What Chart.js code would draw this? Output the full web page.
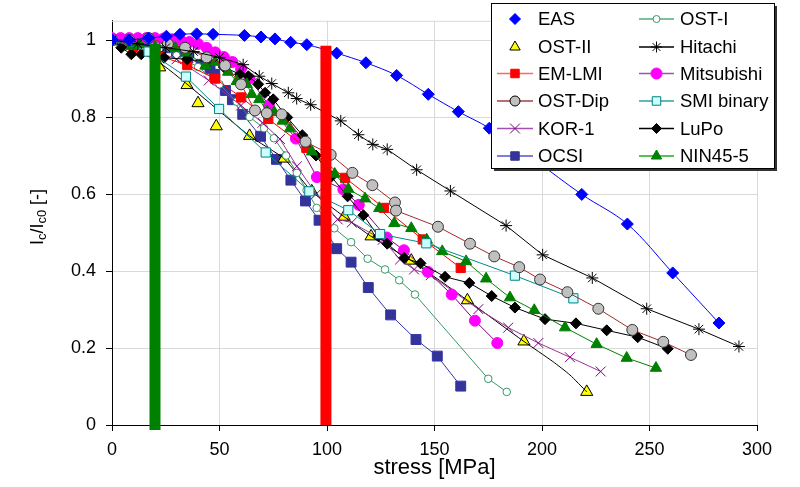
<!DOCTYPE html>
<html>
<head>
<meta charset="utf-8">
<script src="https://cdn.jsdelivr.net/npm/chart.js@4.4.0/dist/chart.umd.min.js"></script>
<style>
  html, body { margin: 0; padding: 0; background: #fff; }
  #wrap { width: 800px; height: 487px; position: relative; }
</style>
</head>
<body>
<div id="wrap"><canvas id="chart"></canvas></div>
<script>
// values (stress in MPa, Ic/Ic0)
const easStress = [0, 8, 17, 25.3, 31.6, 39.4, 47, 61.6, 69.3, 75.8, 83.1, 90.6, 104.5, 118.1, 132.4, 147.1, 161.1, 175.5, 196.7, 218.5, 239.7, 260.8, 282.3];
const easIc = [1, 1, 1.005, 1.01, 1.015, 1.016, 1.015, 1.012, 1.008, 1.003, 0.994, 0.988, 0.966, 0.941, 0.908, 0.859, 0.814, 0.771, 0.688, 0.599, 0.522, 0.395, 0.265];

const ost2Stress = [0, 22.2, 34.9, 40, 48.5, 64, 80, 92.9, 108, 120.5, 139.2, 165.3, 191.6, 220.8];
const ost2Ic = [1, 0.929, 0.883, 0.836, 0.776, 0.751, 0.692, 0.607, 0.541, 0.49, 0.427, 0.324, 0.217, 0.086];
// black trend line drawn through the OST-II points
const ost2LineStress = [0, 22.2, 64, 80, 92.9, 108, 120.5, 139.2, 165.3, 191.6, 205, 213, 220.8];
const ost2LineIc = [1, 0.941, 0.751, 0.692, 0.607, 0.541, 0.49, 0.427, 0.324, 0.217, 0.165, 0.13, 0.086];

const emStress = [0, 10, 22.3, 35, 48, 60.1, 72.7, 90.4, 108.4, 126.5, 144.5, 162.2];
const emIc = [1, 0.98, 0.958, 0.935, 0.9, 0.851, 0.795, 0.72, 0.642, 0.564, 0.482, 0.408];

const dipStress = [0, 8, 17, 26, 34, 44, 52.6, 60, 66.5, 72, 78.9, 90, 101.7, 111.8, 121.1, 131.6, 132.1, 151.6, 166.5, 177.8, 189.4, 199.1, 211.8, 226.2, 242, 256.4, 269.3];
const dipIc = [1, 1, 1.005, 0.99, 0.98, 0.955, 0.934, 0.885, 0.817, 0.81, 0.807, 0.736, 0.702, 0.655, 0.623, 0.578, 0.557, 0.515, 0.471, 0.438, 0.41, 0.378, 0.345, 0.302, 0.247, 0.216, 0.182];

const korStress = [0, 15, 30, 45, 60, 70, 78.1, 86, 95, 105, 111.5, 125.9, 134, 140.5, 148.2, 170.4, 184.3, 198.3, 213, 227.3];
const korIc = [1, 0.985, 0.95, 0.895, 0.83, 0.785, 0.743, 0.672, 0.6, 0.534, 0.526, 0.481, 0.43, 0.404, 0.389, 0.301, 0.253, 0.213, 0.176, 0.139];

const ocsiStress = [0, 5, 10, 15, 20, 26, 30, 35.3, 41.5, 45.6, 47.8, 52.8, 56, 60.8, 69.1, 76.5, 83.2, 90, 96.3, 104.5, 111.2, 119.2, 129.6, 141.4, 151.3, 162.2];
const ocsiIc = [1, 1, 0.997, 0.994, 0.99, 0.98, 0.97, 0.954, 0.937, 0.925, 0.911, 0.869, 0.845, 0.807, 0.75, 0.69, 0.636, 0.582, 0.532, 0.458, 0.423, 0.357, 0.286, 0.222, 0.179, 0.101];

const ost1Stress = [0, 10, 20, 30, 40, 50, 58, 64, 70.7, 75.3, 81, 86, 90.5, 95.2, 103.4, 111.2, 118.9, 127, 133.6, 140.9, 175, 183.6];
const ost1Ic = [1, 1, 0.99, 0.96, 0.93, 0.885, 0.84, 0.8, 0.771, 0.745, 0.7, 0.655, 0.61, 0.564, 0.511, 0.475, 0.432, 0.404, 0.376, 0.339, 0.12, 0.086];

const hitStress = [0, 12, 25, 38, 50, 61, 68.5, 74.3, 82, 85.9, 92.4, 106.4, 114.6, 121.3, 128, 141.7, 157.4, 183.3, 200.3, 223.4, 248.7, 273, 291.6];
const hitIc = [1, 0.99, 0.98, 0.97, 0.955, 0.936, 0.906, 0.887, 0.863, 0.848, 0.832, 0.79, 0.754, 0.729, 0.716, 0.663, 0.608, 0.518, 0.442, 0.382, 0.302, 0.249, 0.204];

const mitStress = [0, 4, 8, 12, 16, 20, 24, 28, 32, 36, 40, 44, 48, 52, 56, 60, 64, 73, 85.5, 95.3, 107.6, 114.8, 127.8, 135.8, 146.9, 158, 168.8, 179.2];
const mitIc = [1.005, 1.005, 1.005, 1.005, 1.005, 1.005, 1.004, 1.002, 0.999, 0.995, 0.99, 0.98, 0.968, 0.956, 0.943, 0.925, 0.9, 0.83, 0.744, 0.644, 0.612, 0.572, 0.487, 0.454, 0.398, 0.339, 0.271, 0.213];

const smiStress = [0, 17, 34.4, 49.8, 71.5, 91.8, 109.9, 124.7, 146.2, 187.4, 214.6];
const smiIc = [1, 0.97, 0.905, 0.821, 0.708, 0.607, 0.558, 0.496, 0.472, 0.388, 0.329];

const lupoStress = [0, 4.3, 9, 13.6, 24.2, 35, 45, 52, 59.5, 63.4, 68, 71.2, 75, 81.5, 88.5, 94.9, 102, 109.6, 116.9, 123.9, 128, 135.9, 143.5, 154.9, 166.2, 176.6, 187.4, 201.4, 215.8, 230.1, 244.5, 258.5];
const lupoIc = [1, 0.98, 0.963, 0.963, 0.954, 0.95, 0.943, 0.93, 0.911, 0.906, 0.885, 0.863, 0.846, 0.799, 0.753, 0.7, 0.645, 0.594, 0.545, 0.49, 0.471, 0.434, 0.42, 0.385, 0.369, 0.335, 0.305, 0.275, 0.264, 0.246, 0.228, 0.198];

const ninStress = [0, 9.2, 13, 20, 29.5, 34.5, 43.5, 48, 54, 58, 62.7, 65, 68.5, 72.2, 75.5, 79.4, 82.8, 93, 103.6, 109.9, 117.7, 124.3, 131.3, 139.2, 146.4, 153.6, 164.7, 174, 185.1, 196.4, 210.7, 225.4, 239.4, 253];
const ninIc = [1, 0.984, 0.988, 0.982, 0.979, 0.967, 0.934, 0.943, 0.917, 0.893, 0.885, 0.859, 0.846, 0.814, 0.812, 0.79, 0.77, 0.71, 0.652, 0.613, 0.588, 0.563, 0.524, 0.511, 0.481, 0.451, 0.425, 0.38, 0.331, 0.298, 0.253, 0.21, 0.174, 0.148];

// the two thick vertical markers
const greenBarStress = [20, 20];
const greenBarIc = [-0.013, 0.99];
const redBarStress = [99.5, 99.5];
const redBarIc = [0, 0.985];

const xTicks = [0, 50, 100, 150, 200, 250, 300];
const yTicks = [0, 0.2, 0.4, 0.6, 0.8, 1];

const FONT = "'Liberation Sans', Arial, sans-serif";

function pts(xs, ys) {
    return xs.map((x, i) => ({ x: x, y: ys[i] }));
}

function series(label, xs, ys, style) {
    return Object.assign({
        label: label,
        data: pts(xs, ys),
        showLine: true,
        borderWidth: 1,
        pointBorderWidth: 1,
        tension: 0
    }, style);
}

// legend entries: [label, line colour or null, pointStyle, radius, fill, stroke]
const legendLeft = [
    ["EAS", null, "rectRot", 5.5, "#0000FF", "#0000FF"],
    ["OST-II", null, "triangle", 6, "#FFFF00", "#000000"],
    ["EM-LMI", "#FF6666", "rect", 6, "#FF0000", "#FF0000"],
    ["OST-Dip", "#A04040", "circle", 5, "#C0C0C0", "#000000"],
    ["KOR-1", "#A050B0", "crossRot", 7, "#800080", "#800080"],
    ["OCSI", "#5555CC", "rect", 6, "#333399", "#333399"]
];
const legendRight = [
    ["OST-I", "#55AA80", "circle", 3.5, "#FFFFFF", "#339966"],
    ["Hitachi", "#000000", "star", 5.5, "#000000", "#000000"],
    ["Mitsubishi", "#A050B0", "circle", 5.5, "#FF00FF", "#FF00FF"],
    ["SMI binary", "#30A0A0", "rect", 6, "#CCFFFF", "#008080"],
    ["LuPo", "#000000", "rectRot", 5, "#000000", "#000000"],
    ["NIN45-5", "#22AA22", "triangle", 6, "#008000", "#008000"]
];

function drawMarker(ctx, style, r, x, y, fill, stroke) {
    ctx.save();
    ctx.fillStyle = fill;
    ctx.strokeStyle = stroke;
    ctx.lineWidth = 1;
    ctx.beginPath();
    if (style === "circle") {
        ctx.arc(x, y, r, 0, Math.PI * 2);
        ctx.fill(); ctx.stroke();
    } else if (style === "rect") {
        let s = r * Math.SQRT1_2;
        ctx.rect(x - s, y - s, 2 * s, 2 * s);
        ctx.fill(); ctx.stroke();
    } else if (style === "rectRot") {
        ctx.moveTo(x - r, y); ctx.lineTo(x, y - r); ctx.lineTo(x + r, y); ctx.lineTo(x, y + r);
        ctx.closePath(); ctx.fill(); ctx.stroke();
    } else if (style === "triangle") {
        ctx.moveTo(x, y - r);
        ctx.lineTo(x + r * 0.866, y + r * 0.5);
        ctx.lineTo(x - r * 0.866, y + r * 0.5);
        ctx.closePath(); ctx.fill(); ctx.stroke();
    } else if (style === "crossRot") {
        let s = r * Math.SQRT1_2;
        ctx.moveTo(x - s, y - s); ctx.lineTo(x + s, y + s);
        ctx.moveTo(x + s, y - s); ctx.lineTo(x - s, y + s);
        ctx.stroke();
    } else if (style === "star") {
        let s = r * Math.SQRT1_2;
        ctx.moveTo(x - s, y - s); ctx.lineTo(x + s, y + s);
        ctx.moveTo(x + s, y - s); ctx.lineTo(x - s, y + s);
        ctx.moveTo(x, y - r); ctx.lineTo(x, y + r);
        ctx.moveTo(x - r, y); ctx.lineTo(x + r, y);
        ctx.stroke();
    }
    ctx.restore();
}

const decorPlugin = {
    id: "decor",
    beforeDatasetsDraw(chart) {
        const ctx = chart.ctx, a = chart.chartArea;
        ctx.save();
        ctx.strokeStyle = "#D9D9D9";
        ctx.lineWidth = 1;
        ctx.beginPath();
        ctx.moveTo(a.left, a.top + 0.5);
        ctx.lineTo(a.right + 0.5, a.top + 0.5);
        ctx.lineTo(a.right + 0.5, a.bottom);
        ctx.stroke();
        ctx.restore();
    },
    afterDraw(chart) {
        const ctx = chart.ctx, a = chart.chartArea;
        ctx.save();
        // x title
        ctx.fillStyle = "#000";
        ctx.font = "22px " + FONT;
        ctx.textAlign = "center";
        ctx.textBaseline = "middle";
        ctx.fillText("stress [MPa]", (a.left + a.right) / 2, 468);

        // y title with subscripts
        const parts = [["I", 18, 0], ["c", 13, 4], ["/I", 18, 0], ["c0", 13, 4], [" [-]", 18, 0]];
        let total = 0;
        parts.forEach(p => { ctx.font = p[1] + "px " + FONT; total += ctx.measureText(p[0]).width; });
        ctx.translate(38, 217);
        ctx.rotate(-Math.PI / 2);
        ctx.textAlign = "left";
        ctx.textBaseline = "middle";
        let cx = -total / 2;
        parts.forEach(p => {
            ctx.font = p[1] + "px " + FONT;
            ctx.fillText(p[0], cx, p[2]);
            cx += ctx.measureText(p[0]).width;
        });
        ctx.restore();

        // legend box
        ctx.save();
        const bx = 491, by = 3, bw = 283, bh = 165;
        ctx.fillStyle = "#333";
        ctx.fillRect(bx + 3, by + 3, bw, bh);
        ctx.fillStyle = "#fff";
        ctx.fillRect(bx, by, bw, bh);
        ctx.strokeStyle = "#000";
        ctx.lineWidth = 1;
        ctx.strokeRect(bx + 0.5, by + 0.5, bw, bh);
        const rows = [19, 47, 73.5, 101, 128.5, 156];
        const cols = [[497, 533, 515, 538, legendLeft], [639, 674, 656.5, 680, legendRight]];
        ctx.font = "18.5px " + FONT;
        ctx.textBaseline = "middle";
        ctx.textAlign = "left";
        cols.forEach(c => {
            c[4].forEach((e, i) => {
                const y = rows[i];
                if (e[1]) {
                    ctx.strokeStyle = e[1];
                    ctx.lineWidth = 1.5;
                    ctx.beginPath();
                    ctx.moveTo(c[0], y);
                    ctx.lineTo(c[1], y);
                    ctx.stroke();
                }
                drawMarker(ctx, e[2], e[3], c[2], y, e[4], e[5]);
                ctx.fillStyle = "#000";
                ctx.fillText(e[0], c[3], y + 1);
            });
        });
        ctx.restore();
    }
};

const datasets = [
    series("bar20", greenBarStress, greenBarIc, { borderColor: "#008000", borderWidth: 11, pointRadius: 0, clip: false, borderCapStyle: "butt" }),
    series("bar100", redBarStress, redBarIc, { borderColor: "#FF0000", borderWidth: 11, pointRadius: 0, clip: false, borderCapStyle: "butt" }),
    series("EAS", easStress, easIc, { borderColor: "#0000FF", backgroundColor: "#0000FF", pointStyle: "rectRot", pointRadius: 6, tension: 0.35 }),
    series("Hitachi", hitStress, hitIc, { borderColor: "#000000", backgroundColor: "#000000", pointStyle: "star", pointRadius: 6 }),
    series("OST-Dip", dipStress, dipIc, { borderColor: "#A52A2A", pointBackgroundColor: "#C0C0C0", pointBorderColor: "#333333", pointStyle: "circle", pointRadius: 5.5 }),
    series("SMI binary", smiStress, smiIc, { borderColor: "#008B8B", pointBackgroundColor: "#CCFFFF", pointBorderColor: "#008080", pointStyle: "rect", pointRadius: 6.5 }),
    series("NIN45-5", ninStress, ninIc, { borderColor: "#008000", backgroundColor: "#008000", pointStyle: "triangle", pointRadius: 6.5 }),
    series("LuPo", lupoStress, lupoIc, { borderColor: "#000000", backgroundColor: "#000000", pointStyle: "rectRot", pointRadius: 5.5 }),
    series("EM-LMI", emStress, emIc, { borderColor: "#FF0000", backgroundColor: "#FF0000", pointStyle: "rect", pointRadius: 6.5 }),
    series("Mitsubishi", mitStress, mitIc, { borderColor: "#800080", pointBackgroundColor: "#FF00FF", pointBorderColor: "#FF00FF", pointStyle: "circle", pointRadius: 5.5 }),
    series("KOR-1", korStress, korIc, { borderColor: "#993399", pointBorderColor: "#800080", pointStyle: "crossRot", pointRadius: 7 }),
    series("OST-I", ost1Stress, ost1Ic, { borderColor: "#339966", pointBackgroundColor: "#FFFFFF", pointBorderColor: "#339966", pointStyle: "circle", pointRadius: 3.8 }),
    series("OST-II line", ost2LineStress, ost2LineIc, { borderColor: "#000000", pointRadius: 0, tension: 0.2 }),
    series("OST-II", ost2Stress, ost2Ic, { showLine: false, pointBackgroundColor: "#FFFF00", pointBorderColor: "#000000", pointStyle: "triangle", pointRadius: 7 }),
    series("OCSI", ocsiStress, ocsiIc, { borderColor: "#3333AA", backgroundColor: "#333399", pointStyle: "rect", pointRadius: 7 })
];

new Chart(document.getElementById("chart"), {
    type: "scatter",
    data: { datasets: datasets },
    options: {
        responsive: true,
        maintainAspectRatio: false,
        animation: false,
        devicePixelRatio: 1,
        layout: { padding: { top: 17, right: 43, left: 0, bottom: 0 } },
        plugins: {
            legend: { display: false },
            tooltip: { enabled: false }
        },
        scales: {
            x: {
                type: "linear",
                min: 0,
                max: 300,
                afterBuildTicks: s => { s.ticks = xTicks.map(v => ({ value: v })); },
                afterFit: s => { s.height = 62; },
                ticks: { color: "#000", font: { family: FONT, size: 18 }, padding: 8, maxRotation: 0 },
                grid: { color: "#D9D9D9", tickColor: "#000", tickLength: 6 },
                border: { color: "#000", width: 1 }
            },
            y: {
                min: 0,
                max: 1.05,
                afterBuildTicks: s => { s.ticks = yTicks.map(v => ({ value: v })); },
                afterFit: s => { s.width = 112; },
                ticks: { color: "#000", font: { family: FONT, size: 18 }, padding: 10, callback: v => String(Math.round(v * 10) / 10) },
                grid: { color: "#D9D9D9", tickColor: "#000", tickLength: 6 },
                border: { color: "#000", width: 1 }
            }
        }
    },
    plugins: [decorPlugin]
});
</script>
</body>
</html>
